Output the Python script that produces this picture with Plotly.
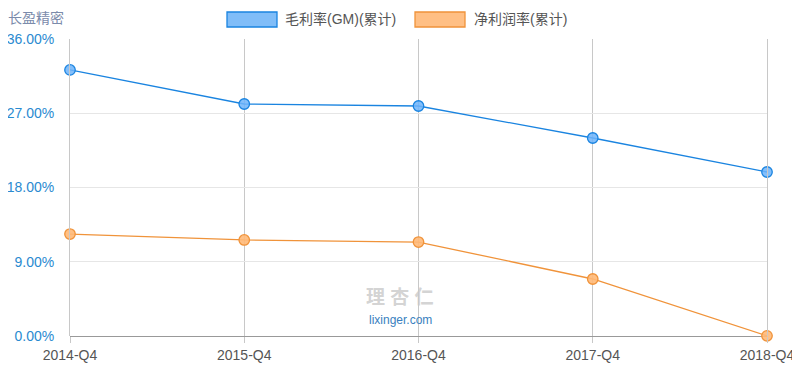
import plotly.graph_objects as go

categories = ["2014-Q4", "2015-Q4", "2016-Q4", "2017-Q4", "2018-Q4"]
gross_margin = [32.25, 28.12, 27.88, 24.00, 19.88]
net_margin = [12.36, 11.64, 11.39, 6.91, 0.02]
y_ticks = [0, 9, 18, 27, 36]
y_tick_labels = ["0.00%", "9.00%", "18.00%", "27.00%", "36.00%"]
series_names = ["毛利率(GM)(累计)", "净利润率(累计)"]

BLUE = "#1a84e0"
BLUE_FILL = "rgba(110,180,250,0.85)"
ORANGE = "#f0933a"
ORANGE_FILL = "rgba(255,185,120,0.9)"
FONT = "Liberation Sans, Noto Sans CJK SC, sans-serif"

# page body has an 8px default margin; plot area in window: x 70..767, y 39..336
PX0, PW, PY0, PH = 70, 697, 39, 297


def px(x):
    return (x - PX0) / PW


def py(y):
    return (PY0 + PH - y) / PH


fig = go.Figure()
fig.add_trace(go.Scatter(
    x=categories, y=gross_margin, mode="lines+markers", name=series_names[0],
    line=dict(color=BLUE, width=1.3),
    marker=dict(size=10.5, color=BLUE_FILL, line=dict(color=BLUE, width=1.3)),
    cliponaxis=False, showlegend=False))
fig.add_trace(go.Scatter(
    x=categories, y=net_margin, mode="lines+markers", name=series_names[1],
    line=dict(color=ORANGE, width=1.3),
    marker=dict(size=10.5, color=ORANGE_FILL, line=dict(color=ORANGE, width=1.3)),
    cliponaxis=False, showlegend=False))

# legend swatches (manual, wide rectangles)
fig.add_shape(type="rect", xref="paper", yref="paper",
              x0=px(227), x1=px(277), y0=py(27), y1=py(12),
              fillcolor="#80bdf8", line=dict(color=BLUE, width=1.3))
fig.add_shape(type="rect", xref="paper", yref="paper",
              x0=px(415), x1=px(465), y0=py(27), y1=py(12),
              fillcolor="#ffbf84", line=dict(color=ORANGE, width=1.3))
fig.add_annotation(xref="paper", yref="paper", x=px(283), y=py(19.5),
                   text=series_names[0], showarrow=False, xanchor="left", yanchor="middle",
                   font=dict(family=FONT, size=14, color="#555555"))
fig.add_annotation(xref="paper", yref="paper", x=px(472), y=py(19.5),
                   text=series_names[1], showarrow=False, xanchor="left", yanchor="middle",
                   font=dict(family=FONT, size=14, color="#555555"))

# title
fig.add_annotation(xref="paper", yref="paper", x=px(6), y=py(8.5),
                   text="长盈精密", showarrow=False, xanchor="left", yanchor="top",
                   font=dict(family=FONT, size=14, color="#7b8bab"))

# watermark
fig.add_annotation(xref="paper", yref="paper", x=px(400), y=py(297),
                   text="<b>理 杏 仁</b>", showarrow=False, xanchor="center", yanchor="middle",
                   font=dict(family=FONT, size=19, color="rgba(200,200,200,0.8)"))
fig.add_annotation(xref="paper", yref="paper", x=px(400), y=py(320),
                   text="lixinger.com", showarrow=False, xanchor="center", yanchor="middle",
                   font=dict(family=FONT, size=12, color="#3a7fc0"))

fig.update_layout(
    width=792, height=367,
    margin=dict(l=62, r=33, t=31, b=39),
    paper_bgcolor="white", plot_bgcolor="white",
    font=dict(family=FONT),
)
fig.update_xaxes(
    type="category", range=[0, 4], automargin=False,
    showgrid=True, gridcolor="#c8c8c8", gridwidth=1,
    ticks="outside", ticklen=6, tickcolor="#c8c8c8",
    tickfont=dict(size=14, color="#555555"),
    showline=False, zeroline=False,
)
fig.update_yaxes(
    range=[0, 36], tickvals=y_ticks, ticktext=y_tick_labels, automargin=False,
    showgrid=True, gridcolor="#e6e6e6", gridwidth=1,
    tickfont=dict(size=14, color="#2a8ad0"),
    ticks="outside", ticklen=12, tickcolor="rgba(0,0,0,0)",
    zeroline=True, zerolinecolor="#999999", zerolinewidth=1,
    showline=True, mirror=True, linecolor="#c8c8c8", linewidth=1,
)

fig.write_html("out.html")
